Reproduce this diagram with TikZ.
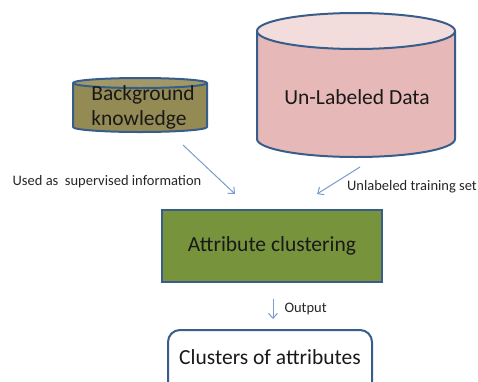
\documentclass[tikz,border=0pt]{standalone}
\usepackage{fontspec}
\setmainfont{Carlito}
\usetikzlibrary{positioning, arrows.meta}
\definecolor{rimcolor}{RGB}{56, 93, 138}
\definecolor{bgkcolor}{RGB}{148, 138, 84}
\definecolor{unlcolor}{RGB}{230, 185, 184}
\definecolor{unltop}{RGB}{242, 220, 220}
\definecolor{clucolor}{RGB}{119, 147, 60}
\definecolor{flowcolor}{RGB}{122, 156, 206}

\begin{document}
\begin{tikzpicture}[
  x=1pt, y=-1pt,
  >={Straight Barb[length=5pt, width=9pt]},
  node distance=46pt,
  % --- Styles ---
  store/.style={draw=rimcolor, line width=2pt, line join=round, fill=#1},
  bigtxt/.style={font=\fontsize{21.5}{25}\selectfont, text=black!90, inner sep=0pt},
  mbox/.style={
    rectangle, draw=rimcolor, fill=#1, line width=2pt,
    minimum width=220pt, minimum height=72pt,
    font=\fontsize{21.5}{25}\selectfont, text=black!90},
  obox/.style={
    rectangle, rounded corners=12pt, draw=rimcolor, fill=white, line width=2pt,
    minimum width=204pt, inner ysep=4pt, text height=30pt, text depth=34pt,
    font=\fontsize{21.5}{25}\selectfont, text=black!90},
  flow/.style={->, draw=flowcolor, line width=1pt},
  albl/.style={font=\fontsize{14.5}{17}\selectfont, text=black!85, inner sep=0pt},
]
\useasboundingbox (0,0) rectangle (478,381);

% === DATA STORES ===
% Background knowledge
\filldraw[store=bgkcolor] (73,83) -- (73,127)
  arc[start angle=180, end angle=0, x radius=67, y radius=5] -- (207,83);
\filldraw[store=bgkcolor!88!white] (140,83) ellipse[x radius=67, y radius=5];
\coordinate (bgkbot) at (140,132);
\node[bigtxt, align=left] (bgk) at (143,107) {Background\\knowledge};

% Un-labeled data
\filldraw[store=unlcolor] (257,31) -- (257,139)
  arc[start angle=180, end angle=0, x radius=99, y radius=18] -- (455,31);
\filldraw[store=unltop] (356,31) ellipse[x radius=99, y radius=18];
\coordinate (unlbot) at (356,157);
\node[bigtxt] (unl) at (357,97) {Un-Labeled Data};

% === PROCESS ===
\node[mbox=clucolor] (clus) at (272,246) {Attribute clustering};
\node[obox, below=46pt of clus, xshift=-2pt] (outbox) {Clusters of attributes};

% === ARROWS ===
\draw[flow] ([shift={(43,13)}]bgkbot) -- ([shift={(-37,-15)}]clus.north);
\draw[flow] ([shift={(4,10)}]unlbot) -- ([shift={(45,-15)}]clus.north);
\draw[flow] ([shift={(1,16)}]clus.south) --
  node[albl, right, xshift=11pt] (outlbl) {Output} ([shift={(1,36)}]clus.south);

% arrow labels
\node[albl] (suplbl) at (107,182) {Used as\ \ supervised information};
\node[albl] (unllbl) at (412,187) {Unlabeled training set};
\end{tikzpicture}
\end{document}
